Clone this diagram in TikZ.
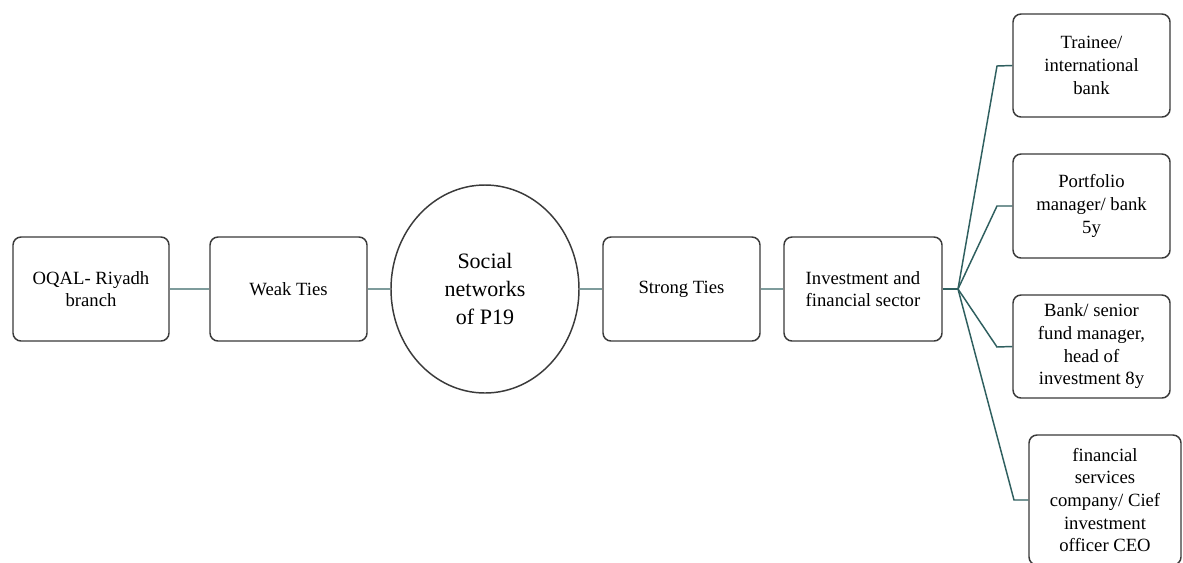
\documentclass[tikz,border=0pt]{standalone}
\usepackage{fontspec}
\setmainfont{LiberationSerif}[Extension=.ttf,UprightFont=*-Regular,BoldFont=*-Bold,ItalicFont=*-Italic]
\definecolor{boxline}{HTML}{3A3A3A}
\definecolor{linkmain}{HTML}{7E9C9C}
\definecolor{linkteal}{HTML}{2F5F5F}
\usetikzlibrary{shapes.geometric}
\begin{document}
\begin{tikzpicture}[x=0.75pt,y=-0.75pt,
  card/.style={draw=boxline,line width=1.1pt,rounded corners=6pt,fill=white,
    align=center,inner sep=0pt,font=\rmfamily\fontsize{14}{17}\selectfont},
  hub/.style={draw=boxline,line width=1.1pt,ellipse,fill=white,align=center,
    inner sep=0pt,font=\rmfamily\fontsize{16.5}{21}\selectfont},
  mainlink/.style={draw=linkmain,line width=1.8pt},
  branch/.style={draw=linkteal,line width=1.1pt}]
\clip (0,0) rectangle (1183,562);
\fill[white] (0,0) rectangle (1183,562);
% connector junctions
\coordinate (fork) at (958,289);
\coordinate (e1) at (997,66);
\coordinate (e2) at (997,206);
\coordinate (e3) at (997,347);
\coordinate (e4) at (1014,500);
% main chain
\node[card,minimum width=117pt,minimum height=78pt] (oqal) at (91,289) {OQAL- Riyadh\\branch};
\node[card,minimum width=117.75pt,minimum height=78pt] (weak) at (288.5,289) {Weak Ties};
\node[hub,minimum width=141pt,minimum height=156pt] (social) at (485,289) {Social\\networks\\of P19};
\node[card,minimum width=117.75pt,minimum height=78pt] (strong) at (681.5,289) {Strong Ties};
\node[card,minimum width=118.5pt,minimum height=78pt] (invest) at (863,289) {Investment and\\financial sector};
% career positions
\node[card,minimum width=117.75pt,minimum height=77.25pt] (trainee) at (1091.5,65.5) {Trainee/\\international\\bank};
\node[card,minimum width=117.75pt,minimum height=78pt] (portfolio) at (1091.5,206) {Portfolio\\manager/ bank\\5y};
\node[card,minimum width=117.75pt,minimum height=77.25pt] (bank) at (1091.5,346.5) {Bank/ senior\\fund manager,\\head of\\investment 8y};
\node[card,minimum width=114pt,minimum height=97.5pt] (fin) at (1105,500) {financial\\services\\company/ Cief\\investment\\officer CEO};
% connectors
\draw[mainlink] (oqal.east) -- (weak.west);
\draw[mainlink] (weak.east) -- (social.west);
\draw[mainlink] (social.east) -- (strong.west);
\draw[mainlink] (strong.east) -- (invest.west);
\draw[branch] (invest.east) -- (fork);
\draw[branch] (fork) -- (e1) -- (trainee.west);
\draw[branch] (fork) -- (e2) -- (portfolio.west);
\draw[branch] (fork) -- (e3) -- (bank.west);
\draw[branch] (fork) -- (e4) -- (fin.west);
\end{tikzpicture}
\end{document}
